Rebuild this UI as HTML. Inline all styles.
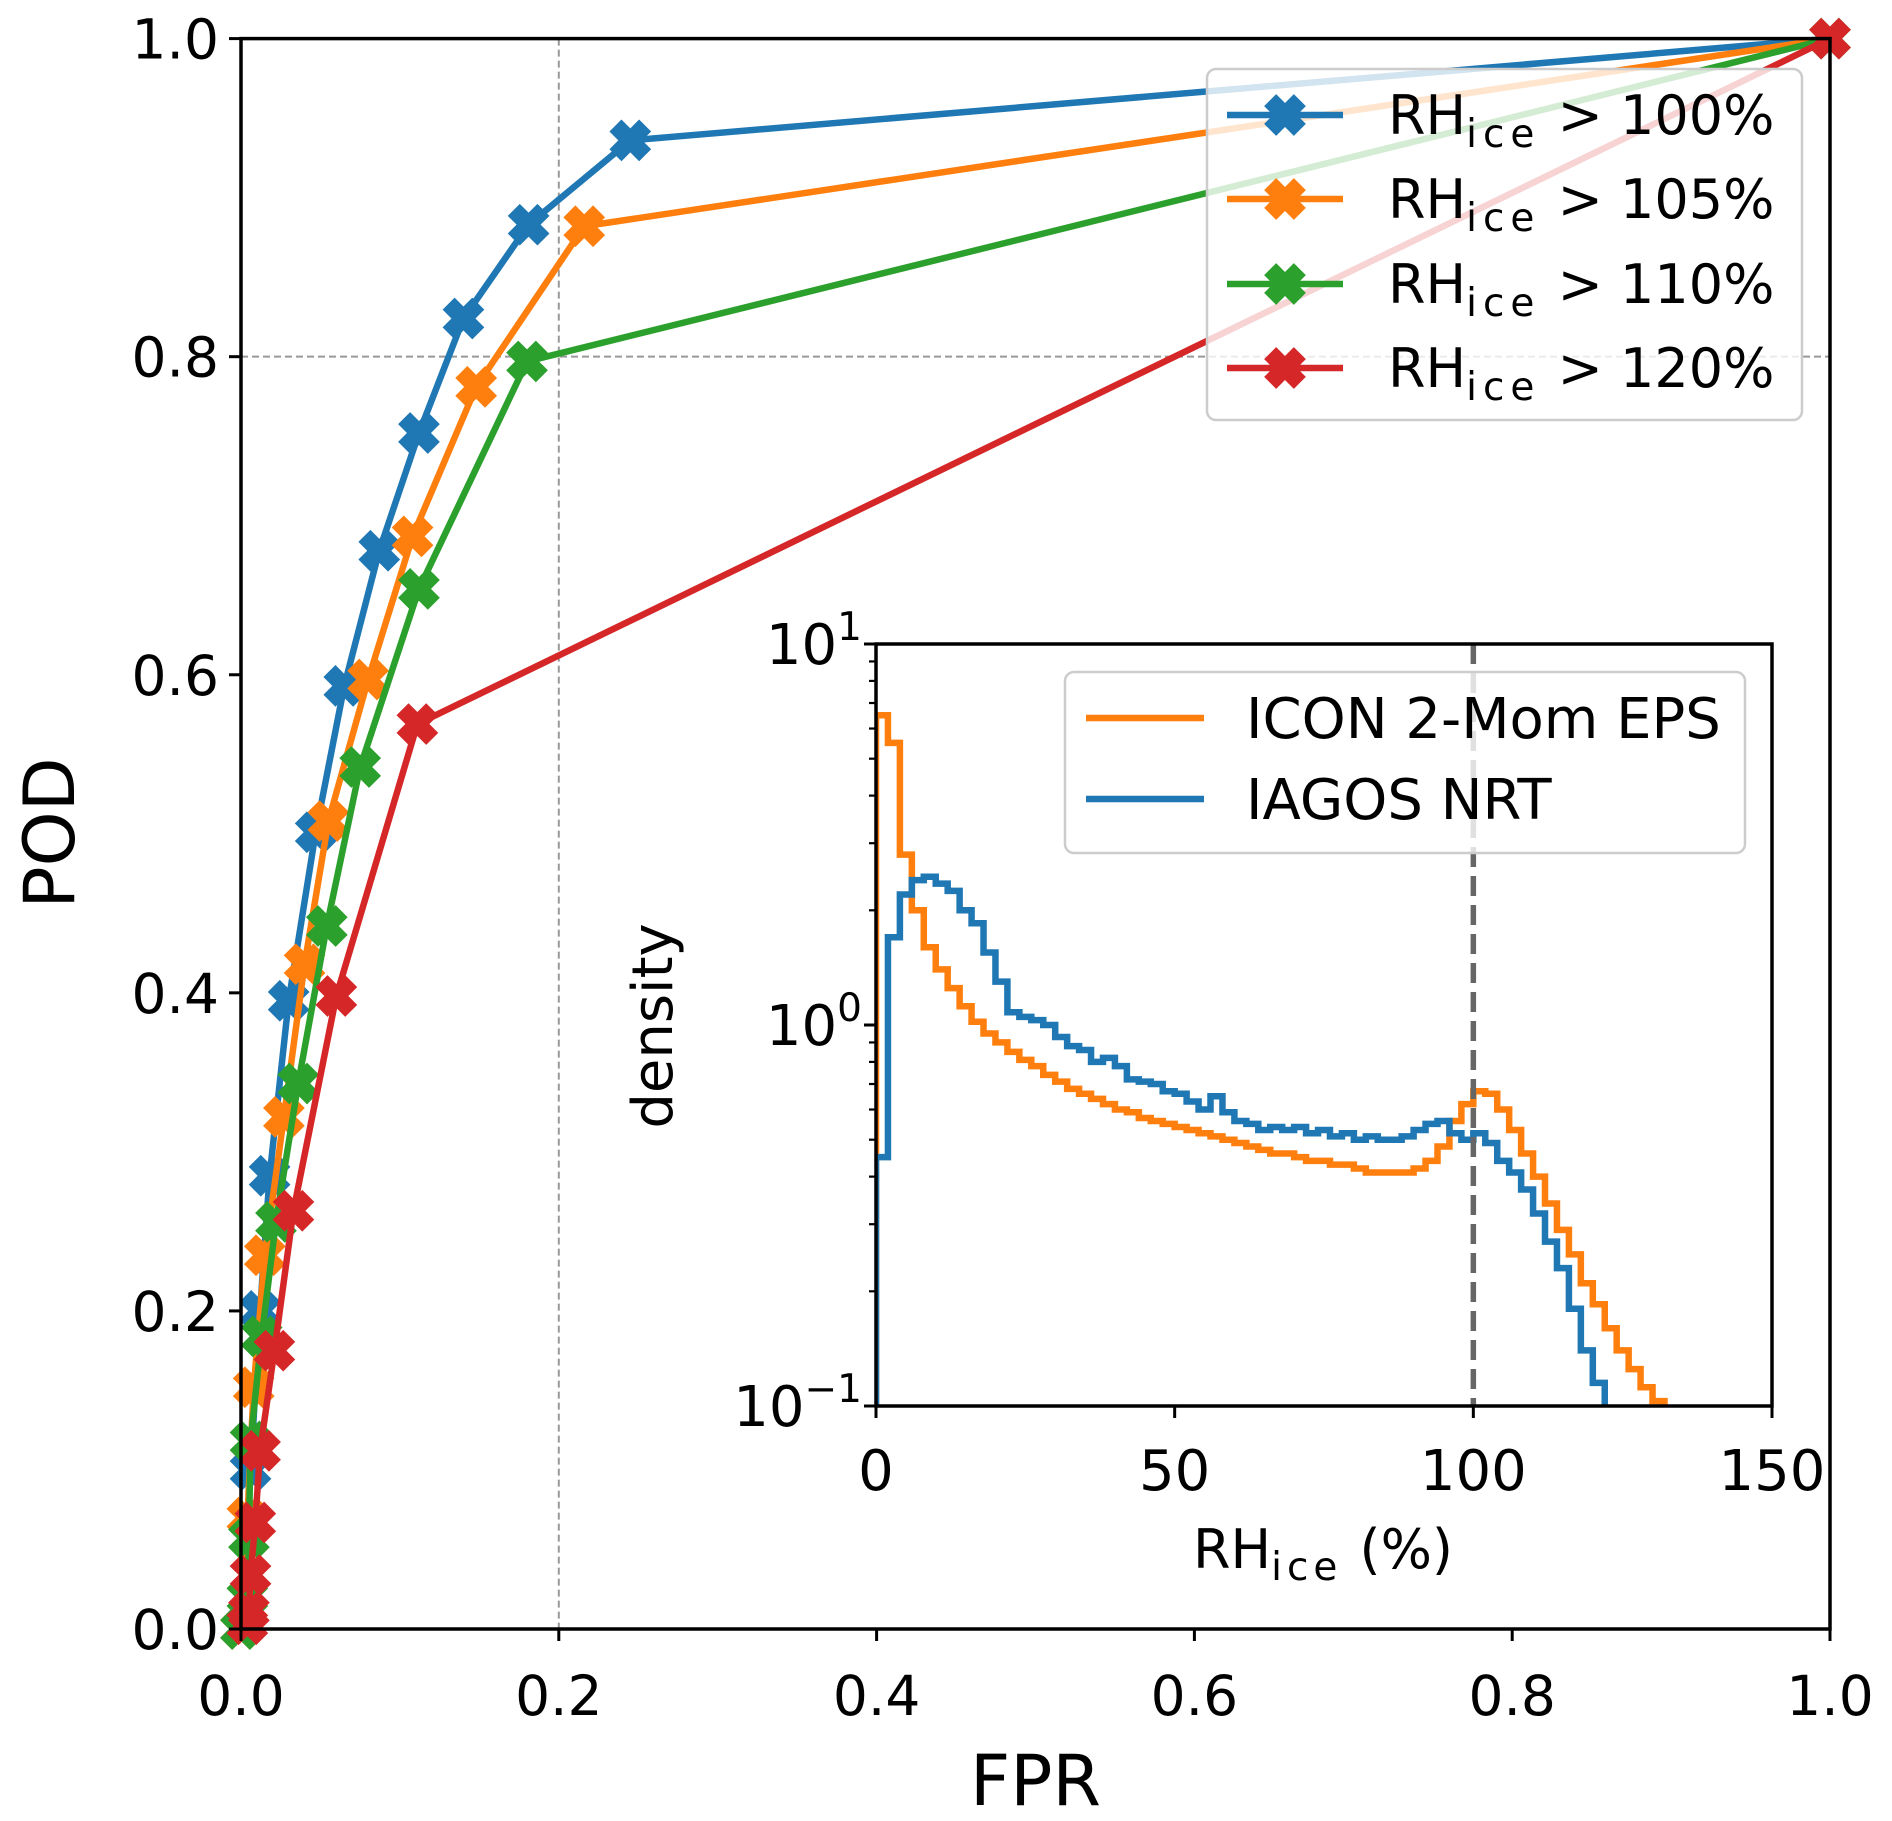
<!DOCTYPE html>
<html><head><meta charset="utf-8"><style>
html,body{margin:0;padding:0;background:#fff;}
svg{display:block;font-family:"DejaVu Sans","Liberation Sans",sans-serif;}
</style></head><body>
<svg id="chart" width="1892" height="1821" viewBox="0 0 1892 1821" xmlns="http://www.w3.org/2000/svg"></svg>
<script>
// ROC data
const rocSeriesNames = ["RH_ice > 100%","RH_ice > 105%","RH_ice > 110%","RH_ice > 120%"];
const rocColors = ["#1f77b4","#ff7f0e","#2ca02c","#d62728"];
const fpr100 = [0,0.006,0.012,0.018,0.030,0.047,0.065,0.087,0.112,0.140,0.181,0.245,1];
const pod100 = [0,0.10,0.20,0.285,0.395,0.501,0.593,0.678,0.752,0.824,0.883,0.936,1];
const fpr105 = [0,0.004,0.008,0.015,0.027,0.040,0.055,0.080,0.108,0.148,0.216,1];
const pod105 = [0,0.07,0.152,0.235,0.322,0.418,0.508,0.597,0.687,0.781,0.882,1];
const fpr110 = [0,0.004,0.005,0.006,0.013,0.022,0.036,0.054,0.075,0.112,0.180,1];
const pod110 = [0,0.02,0.057,0.118,0.184,0.256,0.343,0.442,0.542,0.654,0.797,1];
const fpr120 = [0.004,0.005,0.006,0.009,0.012,0.021,0.033,0.060,0.111,1];
const pod120 = [0.003,0.011,0.034,0.067,0.112,0.175,0.263,0.398,0.569,1];
const xTicks = [0,0.2,0.4,0.6,0.8,1.0];
const xTickLabels = ["0.0","0.2","0.4","0.6","0.8","1.0"];
const yTicks = [0,0.2,0.4,0.6,0.8,1.0];
const yTickLabels = ["0.0","0.2","0.4","0.6","0.8","1.0"];
// Inset histogram data (bin edges every 2 %)
const binStart = 0, binWidth = 2;
const iconDensity = [6.5,5.5,2.8,2.0,1.6,1.4,1.25,1.12,1.02,0.95,0.9,0.85,0.81,0.78,0.74,0.71,0.68,0.66,0.64,0.62,0.6,0.59,0.57,0.56,0.55,0.54,0.53,0.52,0.51,0.5,0.49,0.48,0.47,0.46,0.46,0.45,0.44,0.44,0.43,0.43,0.42,0.41,0.41,0.41,0.41,0.42,0.44,0.48,0.56,0.62,0.67,0.66,0.6,0.53,0.46,0.4,0.34,0.29,0.25,0.21,0.185,0.16,0.14,0.125,0.112,0.103,0.09];
const iagosDensity = [0.45,1.7,2.2,2.4,2.45,2.35,2.25,2.0,1.85,1.55,1.3,1.08,1.05,1.03,1.0,0.93,0.88,0.86,0.8,0.82,0.78,0.72,0.71,0.7,0.67,0.66,0.63,0.6,0.65,0.59,0.56,0.55,0.53,0.54,0.53,0.54,0.52,0.53,0.51,0.52,0.5,0.51,0.5,0.5,0.51,0.53,0.55,0.56,0.52,0.5,0.52,0.49,0.44,0.41,0.37,0.32,0.27,0.23,0.18,0.14,0.115,0.095];
const insetXTicks = [0,50,100,150];
const insetYTickExp = [1,0,-1];

const svg = document.getElementById('chart');
const NS = "http://www.w3.org/2000/svg";
function mk(tag, attrs, parent){const e=document.createElementNS(NS,tag);for(const k in attrs)e.setAttribute(k,attrs[k]);(parent||svg).appendChild(e);return e;}

const X0=241,X1=1830,Y0=1629,Y1=38.6;
const sx=v=>X0+(X1-X0)*v, sy=v=>Y0-(Y0-Y1)*v;

let g=mk('line',{x1:sx(0.2),x2:sx(0.2),y1:Y1,y2:Y0,stroke:'#999',"stroke-width":2,"stroke-dasharray":"7,4"});


g=mk('line',{x1:X0,x2:X1,y1:sy(0.8),y2:sy(0.8),stroke:'#999',"stroke-width":2,"stroke-dasharray":"7,4"});



function xMarker(cx,cy,col,parent,name){
  const L=21,w=8.5;
  const pts=[[-w,-L],[w,-L],[w,-w],[L,-w],[L,w],[w,w],[w,L],[-w,L],[-w,w],[-L,w],[-L,-w],[-w,-w]];
  const c=Math.SQRT1_2;
  const p=pts.map(([x,y])=>[(x-y)*c+cx,(x+y)*c+cy].join(',')).join(' ');
  const m=mk('polygon',{points:p,fill:col},parent);
  
  
}
const rocX=[fpr100,fpr105,fpr110,fpr120], rocY=[pod100,pod105,pod110,pod120];
for(let s=0;s<4;s++){
  const grp=mk('g',{});
  
  
  const d=rocX[s].map((x,i)=>(i?'L':'M')+sx(x)+','+sy(rocY[s][i])).join(' ');
  const pl=mk('path',{d:d,fill:'none',stroke:rocColors[s],"stroke-width":6.5,"stroke-linejoin":"round"},grp);
  
  
  rocX[s].forEach((x,i)=>xMarker(sx(x),sy(rocY[s][i]),rocColors[s],grp,'roc-marker'));
}

const fr=mk('rect',{x:X0,y:Y1,width:X1-X0,height:Y0-Y1,fill:'none',stroke:'#000',"stroke-width":3.5});


xTicks.forEach((v,i)=>{
  mk('line',{x1:sx(v),x2:sx(v),y1:Y0,y2:Y0+12,stroke:'#000',"stroke-width":3});
  const t=mk('text',{x:sx(v),y:1715,"font-size":55,"text-anchor":"middle"});t.textContent=xTickLabels[i];
  
  
});
yTicks.forEach((v,i)=>{
  mk('line',{x1:X0-12,x2:X0,y1:sy(v),y2:sy(v),stroke:'#000',"stroke-width":3});
  const t=mk('text',{x:X0-22,y:sy(v)+20,"font-size":55,"text-anchor":"end"});t.textContent=yTickLabels[i];
  
  
});
let t=mk('text',{x:(X0+X1)/2,y:1805,"font-size":70,"text-anchor":"middle"});t.textContent="FPR";


t=mk('text',{x:0,y:0,"font-size":70,"text-anchor":"middle",transform:"translate(74,833) rotate(-90)"});t.textContent="POD";



const lg=mk('g',{});


mk('rect',{x:1207,y:69,width:595,height:351,rx:9,fill:'rgba(255,255,255,0.8)',stroke:'#ccc',"stroke-width":2.5},lg);
const legY=[115,199,284,368], legTh=["100%","105%","110%","120%"];
for(let s=0;s<4;s++){
  const ln=mk('line',{x1:1227,x2:1343,y1:legY[s],y2:legY[s],stroke:rocColors[s],"stroke-width":6.5},lg);
  
  
  xMarker(1285,legY[s],rocColors[s],lg,'legend-marker');
  const tx=mk('text',{x:1388,y:legY[s]+19,"font-size":54},lg);
  
  
  tx.innerHTML='RH<tspan dy="13" font-size="39" letter-spacing="6">ice</tspan><tspan dy="-13"> &gt; '+legTh[s]+'</tspan>';
}

// Inset
const IX0=876,IX1=1772,IY0=1406,IY1=644;
const ix=v=>IX0+(IX1-IX0)*v/150, iy=v=>IY0-(IY0-IY1)*(Math.log10(v)+1)/2;
const ibg=mk('rect',{x:IX0,y:IY1,width:IX1-IX0,height:IY0-IY1,fill:'#fff'});


const clip=mk('clipPath',{id:'ic'});mk('rect',{x:IX0,y:IY1,width:IX1-IX0,height:IY0-IY1},clip);
function stepPath(arr){
  let d='M'+ix(binStart)+','+(IY0+40);
  arr.forEach((v,i)=>{const y=iy(Math.max(v,0.05));d+=' L'+ix(binStart+i*binWidth)+','+y+' L'+ix(binStart+(i+1)*binWidth)+','+y;});
  d+=' L'+ix(binStart+arr.length*binWidth)+','+(IY0+40);
  return d;
}
let h=mk('path',{d:stepPath(iconDensity),fill:'none',stroke:'#ff7f0e',"stroke-width":6.5,"clip-path":"url(#ic)"});


h=mk('path',{d:stepPath(iagosDensity),fill:'none',stroke:'#1f77b4',"stroke-width":6.5,"clip-path":"url(#ic)"});


h=mk('line',{x1:ix(100),x2:ix(100),y1:IY1,y2:IY0,stroke:'#666',"stroke-width":5.5,"stroke-dasharray":"20,9"});


const ifr=mk('rect',{x:IX0,y:IY1,width:IX1-IX0,height:IY0-IY1,fill:'none',stroke:'#000',"stroke-width":3.5});


insetXTicks.forEach(v=>{
  mk('line',{x1:ix(v),x2:ix(v),y1:IY0,y2:IY0+12,stroke:'#000',"stroke-width":3});
  const tt=mk('text',{x:ix(v),y:1490,"font-size":56,"text-anchor":"middle"});tt.textContent=String(v);
  
  
});
insetYTickExp.forEach(e=>{
  const y=iy(Math.pow(10,e));
  mk('line',{x1:IX0-12,x2:IX0,y1:y,y2:y,stroke:'#000',"stroke-width":3});
  const tt=mk('text',{x:IX0-14,y:y+20,"font-size":56,"text-anchor":"end"});
  tt.innerHTML='10<tspan dy="-24" font-size="39">'+(e<0?'\u2212'+(-e):e)+'</tspan>';
  
  
});
for(let e=-1;e<1;e++)for(let k=2;k<10;k++){const y=iy(k*Math.pow(10,e));mk('line',{x1:IX0-7,x2:IX0,y1:y,y2:y,stroke:'#000',"stroke-width":2.2});}
t=mk('text',{x:1323,y:1568,"font-size":54,"text-anchor":"middle"});
t.innerHTML='RH<tspan dy="12" font-size="39" letter-spacing="5">ice</tspan><tspan dy="-12"> (%)</tspan>';


t=mk('text',{x:0,y:0,"font-size":56,"text-anchor":"middle",transform:"translate(672,1026) rotate(-90)"});t.textContent="density";



const ilg=mk('g',{});


mk('rect',{x:1065,y:672,width:680,height:181,rx:9,fill:'rgba(255,255,255,0.8)',stroke:'#ccc',"stroke-width":2.5},ilg);
[["ICON 2-Mom EPS","#ff7f0e",718],["IAGOS NRT","#1f77b4",799]].forEach(([lab,c,y])=>{
  const ln=mk('line',{x1:1086,x2:1204,y1:y,y2:y,stroke:c,"stroke-width":6.5},ilg);
  
  
  const tx=mk('text',{x:1246,y:y+20,"font-size":56},ilg);tx.textContent=lab;
  
  
});
</script>
</body></html>
